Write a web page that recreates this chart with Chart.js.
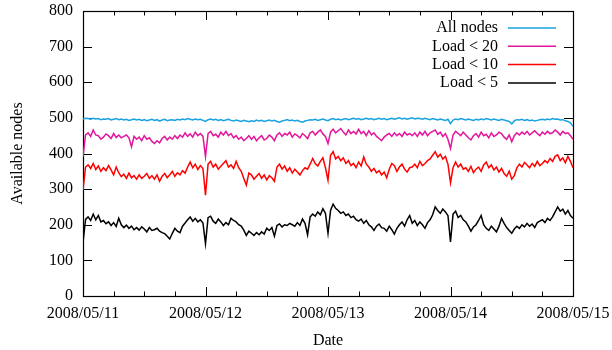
<!DOCTYPE html>
<html>
<head>
<meta charset="utf-8">
<script src="https://cdn.jsdelivr.net/npm/chart.js@4"></script>
<style>
  html, body { margin: 0; padding: 0; background: #fff; }
  #wrap { width: 612px; height: 350px; }
</style>
</head>
<body>
<div id="wrap"><canvas id="nodesChart"></canvas></div>
<script>
const dayLabels = ['2008/05/11', '2008/05/12', '2008/05/13', '2008/05/14', '2008/05/15'];
const seriesNames = ['All nodes', 'Load < 20', 'Load < 10', 'Load < 5'];
const seriesColors = ['#19a3e0', '#e3169b', '#ff0000', '#000000'];

// sample times, hours since 2008/05/11 00:00 (every 30 min)
const hours = Array.from({ length: 193 }, (_, i) => i / 2);

const allNodes = [
  497,499,498,496,499,497,498,495,497,496,498,494,
  496,498,495,497,494,496,493,495,497,494,496,493,
  495,492,494,496,493,495,491,494,496,492,494,495,
  493,496,494,497,495,498,496,494,497,495,496,493,
  490,495,497,494,496,493,495,492,494,496,493,491,
  494,492,490,493,491,489,492,490,494,491,493,490,
  492,494,491,493,490,488,491,493,495,492,494,491,
  493,490,488,491,493,495,494,496,493,495,497,494,
  492,496,498,495,497,494,496,498,495,497,499,496,
  498,495,497,499,496,498,495,497,499,496,498,495,
  497,499,496,498,500,497,499,496,498,500,497,499,
  498,496,499,497,495,498,496,494,497,495,493,496,
  484,494,497,495,498,496,494,497,495,493,496,494,
  497,495,498,496,494,497,495,493,496,494,492,490,
  483,492,495,494,496,493,495,492,494,491,493,495,
  496,494,497,495,498,496,497,494,495,492,490,486,
  476
];

const load20 = [
  391,452,458,448,466,452,450,440,446,455,450,442,
  456,445,452,444,448,452,444,419,448,440,446,436,
  450,440,444,434,428,436,430,442,448,438,446,440,
  450,442,452,446,458,448,455,446,460,450,456,448,
  391,456,462,450,454,446,460,452,462,450,456,444,
  450,440,446,436,442,450,440,448,436,444,450,438,
  442,452,446,436,452,458,448,456,452,460,446,455,
  450,444,456,450,442,458,462,452,460,466,455,448,
  428,460,468,458,464,470,460,452,466,456,462,455,
  468,456,462,450,464,452,458,448,442,436,446,452,
  456,448,458,450,456,448,460,452,456,450,458,448,
  460,452,462,450,458,462,466,454,460,448,456,440,
  414,452,462,456,450,460,452,444,438,450,456,446,
  460,450,454,444,458,448,452,460,456,446,440,452,
  433,450,458,452,460,454,462,452,458,464,456,450,
  460,454,462,456,458,466,460,452,462,456,458,450,
  440
];

const load10 = [
  297,362,368,358,372,355,365,350,360,352,366,354,
  340,362,346,335,342,330,345,332,338,328,340,330,
  336,344,330,338,328,340,322,336,344,332,340,350,
  336,346,340,352,345,362,376,360,370,355,366,358,
  283,370,378,362,370,356,364,372,380,362,368,358,
  378,360,350,330,311,345,340,328,336,344,330,340,
  326,338,332,322,362,370,356,365,350,360,345,356,
  348,340,352,360,356,370,386,372,365,378,388,360,
  325,395,405,385,392,380,388,372,380,366,372,360,
  376,365,390,370,362,350,358,346,352,340,348,332,
  356,372,366,350,362,370,356,348,360,362,370,360,
  378,366,372,380,385,395,405,390,398,384,392,370,
  318,360,376,362,370,356,360,350,364,346,356,362,
  350,368,376,360,368,354,362,348,358,344,336,350,
  328,338,360,370,362,375,368,360,372,364,378,366,
  372,380,374,386,378,392,396,380,388,374,392,378,
  360
];

const load5 = [
  150,215,222,212,230,214,226,208,212,203,208,198,
  206,195,218,200,192,199,190,196,186,192,185,194,
  188,180,192,184,186,190,182,178,175,168,160,176,
  190,182,178,196,205,214,222,210,218,208,214,205,
  147,220,224,210,204,216,208,198,206,200,218,212,
  208,200,196,185,170,182,176,170,178,172,180,174,
  190,184,192,168,198,202,194,200,198,204,200,196,
  206,198,216,204,172,222,230,224,236,228,245,232,
  176,240,258,246,240,232,236,226,230,220,224,214,
  210,216,204,212,200,194,184,196,202,192,190,182,
  196,186,174,190,200,208,196,214,226,204,212,198,
  208,200,190,206,214,228,250,240,232,244,236,226,
  152,230,238,220,226,214,208,196,182,194,200,212,
  226,200,190,184,196,188,180,196,218,204,192,184,
  176,188,196,190,200,194,204,196,202,192,206,210,
  214,206,218,212,222,236,250,238,244,230,240,226,
  218
];

const seriesValues = [allNodes, load20, load10, load5];
const font = { family: "'Liberation Serif', 'DejaVu Serif', serif", size: 16 };

// gnuplot style frame with inward ticks on all four sides
const gnuFrame = {
  id: 'gnuFrame',
  beforeDatasetsDraw(chart) {
    const { ctx, chartArea: a, scales: { x, y } } = chart;
    ctx.save();
    ctx.strokeStyle = '#000';
    ctx.lineWidth = 1;
    ctx.beginPath();
    y.ticks.forEach(t => {
      const py = Math.round(y.getPixelForValue(t.value)) + 0.5;
      ctx.moveTo(a.left, py); ctx.lineTo(a.left + 9, py);
      ctx.moveTo(a.right, py); ctx.lineTo(a.right - 9, py);
    });
    for (let h = x.min; h <= x.max; h += 6) {
      const len = h % 24 === 0 ? 9 : 4.5;
      const px = Math.round(x.getPixelForValue(h)) + 0.5;
      ctx.moveTo(px, a.bottom); ctx.lineTo(px, a.bottom - len);
      ctx.moveTo(px, a.top); ctx.lineTo(px, a.top + len);
    }
    ctx.stroke();
    ctx.lineWidth = 1.2;
    ctx.strokeRect(a.left + 0.5, a.top + 0.5, a.right - a.left, a.bottom - a.top);
    ctx.restore();
  }
};

// key: text right aligned, sample line to the right
const gnuKey = {
  id: 'gnuKey',
  afterDraw(chart) {
    const { ctx, chartArea: a } = chart;
    ctx.save();
    ctx.font = `${font.size}px ${font.family}`;
    ctx.textAlign = 'right';
    ctx.textBaseline = 'middle';
    chart.data.datasets.forEach((ds, i) => {
      const ry = a.top + 17 + i * 18.3;
      ctx.fillStyle = '#000';
      ctx.fillText(ds.label, a.right - 75, ry);
      ctx.strokeStyle = ds.borderColor;
      ctx.lineWidth = 1.5;
      ctx.beginPath();
      ctx.moveTo(a.right - 65, ry);
      ctx.lineTo(a.right - 17, ry);
      ctx.stroke();
    });
    ctx.restore();
  }
};

new Chart(document.getElementById('nodesChart'), {
  type: 'line',
  data: {
    datasets: seriesNames.map((name, i) => ({
      label: name,
      data: hours.map((h, j) => ({ x: h, y: seriesValues[i][j] })),
      borderColor: seriesColors[i],
      borderWidth: 1.5,
      pointRadius: 0,
      tension: 0,
      fill: false
    }))
  },
  options: {
    responsive: true,
    maintainAspectRatio: false,
    animation: false,
    layout: { padding: { top: 11, right: 39, left: 0, bottom: 0 } },
    plugins: { legend: { display: false }, tooltip: { enabled: false } },
    scales: {
      x: {
        type: 'linear',
        min: 0,
        max: 96,
        grid: { display: false, drawTicks: false },
        border: { display: false },
        ticks: {
          stepSize: 24,
          autoSkip: false,
          maxRotation: 0,
          padding: 8,
          color: '#000',
          font,
          callback: v => dayLabels[v / 24]
        },
        title: { display: true, text: 'Date', color: '#000', font, padding: { top: 0, bottom: 0 } },
        afterFit: s => { s.height = 54; s.paddingLeft = 0; s.paddingRight = 0; }
      },
      y: {
        min: 0,
        max: 800,
        grid: { display: false, drawTicks: false },
        border: { display: false },
        ticks: { stepSize: 100, padding: 10, color: '#000', font },
        title: { display: true, text: 'Available nodes', color: '#000', font, padding: { top: 8, bottom: 0 } },
        afterFit: s => { s.width = 83; s.paddingTop = 0; s.paddingBottom = 0; }
      }
    }
  },
  plugins: [gnuFrame, gnuKey]
});
</script>
</body>
</html>
